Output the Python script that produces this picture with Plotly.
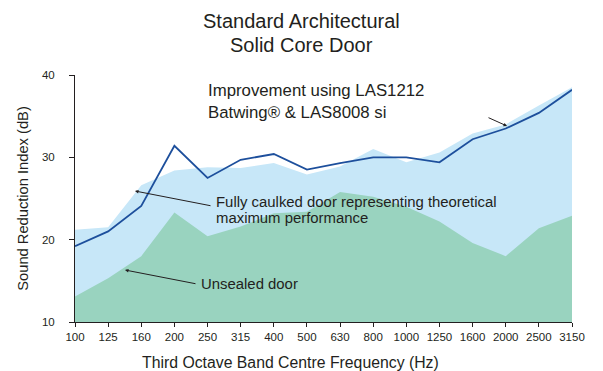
import plotly.graph_objects as go

# third octave band centre frequencies (Hz)
frequencies = ["100", "125", "160", "200", "250", "315", "400", "500", "630",
               "800", "1000", "1250", "1600", "2000", "2500", "3150"]

# sound reduction index (dB)
fully_caulked = [21.2, 21.5, 26.6, 28.4, 28.8, 28.7, 29.3, 27.9, 28.9,
                 31.0, 29.4, 30.6, 32.9, 34.0, 36.3, 38.5]
unsealed = [13.1, 15.3, 18.0, 23.3, 20.4, 21.6, 23.2, 23.4, 25.8,
            25.2, 24.0, 22.2, 19.6, 18.0, 21.4, 22.9]
las_improved = [19.2, 21.0, 24.1, 31.4, 27.5, 29.7, 30.4, 28.5, 29.3,
                30.0, 30.0, 29.4, 32.2, 33.5, 35.4, 38.2]

y_ticks = [10, 20, 30, 40]

FONT = "Liberation Sans, Arial, Helvetica, sans-serif"
TEXT = "#231f20"
idx = list(range(len(frequencies)))

# the page body adds an 8px margin, so the figure is drawn 8px smaller
W, H = 595, 363
PL, PT, PW, PH = 67, 67, 497, 247


def px(x):
    # reference-picture x pixel -> paper fraction
    return (x - 8 - PL) / PW


def py(y):
    # reference-picture y pixel -> paper fraction
    return (PT + PH - (y - 8)) / PH


fig = go.Figure()

fig.add_trace(go.Scatter(
    x=idx, y=fully_caulked, mode="lines", fill="tozeroy",
    line=dict(width=0, color="#c7e7f8"), fillcolor="#c7e7f8",
    name="Fully caulked door", showlegend=False
))
fig.add_trace(go.Scatter(
    x=idx, y=unsealed, mode="lines", fill="tozeroy",
    line=dict(width=0, color="#99d3bf"), fillcolor="#99d3bf",
    name="Unsealed door", showlegend=False
))
fig.add_trace(go.Scatter(
    x=idx, y=las_improved, mode="lines",
    line=dict(width=1.8, color="#1d4f9c"),
    name="Improvement using LAS1212", showlegend=False
))

labels = [
    ("Improvement using LAS1212", 206, 90, 16.8, "left"),
    ("Batwing® & LAS8008 si", 206, 112, 16.8, "left"),
    ("Fully caulked door representing theoretical", 214, 202, 14.9, "left"),
    ("maximum performance", 214, 218, 14.9, "left"),
    ("Unsealed door", 199, 284, 14.9, "left"),
    ("Standard Architectural", 301, 21, 20, "center"),
    ("Solid Core Door", 301, 45, 20, "center"),
    ("Third Octave Band Centre Frequency (Hz)", 290, 362, 15.8, "center"),
]
for text, x, y, size, anchor in labels:
    fig.add_annotation(
        text=text, xref="paper", yref="paper", x=px(x), y=py(y),
        xanchor=anchor, yanchor="middle",
        showarrow=False, font=dict(family=FONT, size=size, color=TEXT)
    )

# pointer arrows
arrows = [
    ((487, 117), (507, 126)),
    ((212, 206), (135, 191)),
    ((197, 284), (125, 270)),
]
for (x0, y0), (x1, y1) in arrows:
    fig.add_annotation(
        xref="paper", yref="paper", axref="pixel", ayref="pixel",
        x=px(x1), y=py(y1), ax=x0 - x1, ay=y0 - y1, text="",
        showarrow=True, arrowhead=2, arrowsize=0.7, arrowwidth=1,
        arrowcolor=TEXT
    )

fig.update_layout(
    width=W, height=H,
    margin=dict(l=PL, r=W - PL - PW, t=PT, b=H - PT - PH),
    paper_bgcolor="white", plot_bgcolor="white",
    font=dict(family=FONT, color=TEXT),
    xaxis=dict(
        range=[0, len(frequencies) - 1], tickvals=idx, ticktext=frequencies,
        showgrid=False, zeroline=False, showline=True, linecolor=TEXT,
        linewidth=1, ticks="outside", ticklen=4, tickcolor=TEXT,
        tickfont=dict(size=11.5, color=TEXT)
    ),
    yaxis=dict(
        range=[10, 40], tickvals=y_ticks, showgrid=False, zeroline=False,
        showline=True, linecolor=TEXT, linewidth=1, ticks="outside",
        ticklen=5, tickcolor=TEXT, tickfont=dict(size=11.5, color=TEXT),
        ticklabelstandoff=12,
        title=dict(text="Sound Reduction Index (dB)",
                   font=dict(size=14.7, color=TEXT), standoff=9)
    ),
)

fig.write_html("out.html")
